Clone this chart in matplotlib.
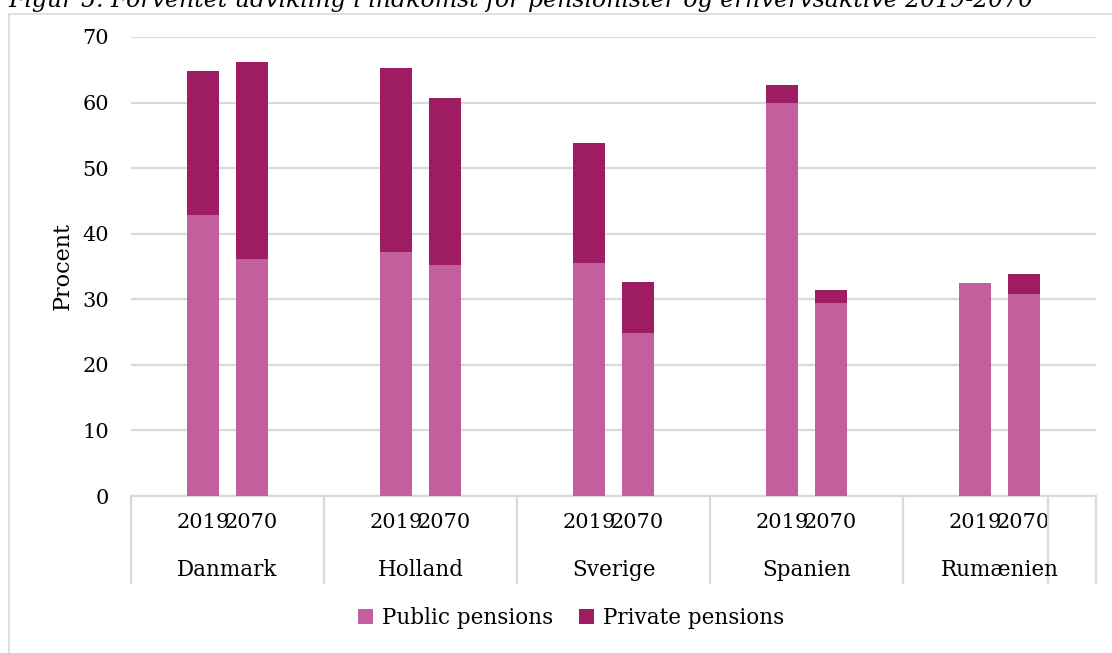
import matplotlib.pyplot as plt
from matplotlib.patches import Rectangle
import matplotlib.transforms as mtransforms

countries = ["Danmark", "Holland", "Sverige", "Spanien", "Rumænien"]
years = ["2019", "2070"]
# public / private share, per country: [2019, 2070]
public = [[42.8, 36.1], [37.2, 35.2], [35.5, 24.8], [59.9, 29.4], [32.5, 30.8]]
private = [[22.0, 30.1], [28.0, 25.5], [18.3, 7.8], [2.8, 2.0], [0.0, 3.0]]

c_pub = "#C1609C"
c_priv = "#9E1C61"
grid_c = "#D9D9D9"
font = "DejaVu Serif"

plt.rcParams['font.family'] = font

fig = plt.figure(figsize=(11.12, 6.53), dpi=100)
ax = fig.add_axes([131/1112, 1 - 496/653, (1096-131)/1112, (496-37)/653])

# outer chart border
fig.patches.append(Rectangle((9/1112, -0.1), 1.2, 1 - 14/653 + 0.1,
                             transform=fig.transFigure, fill=False,
                             edgecolor=grid_c, linewidth=1.2))

xs, pubs, privs, labs = [], [], [], []
for g in range(len(countries)):
    for k in range(2):
        xs.append(4*g + 1 + k)
        pubs.append(public[g][k])
        privs.append(private[g][k])
        labs.append(years[k])

ax.bar(xs, pubs, width=0.66, color=c_pub, label="Public pensions", zorder=3)
ax.bar(xs, privs, width=0.66, bottom=pubs, color=c_priv, label="Private pensions", zorder=3)

ax.set_xlim(-0.5, 19.5)
ax.set_ylim(0, 70)
ax.set_yticks(range(0, 71, 10))
ax.yaxis.grid(True, color=grid_c, linewidth=1.6)
ax.set_axisbelow(True)
for s in ["top", "right", "left"]:
    ax.spines[s].set_visible(False)
ax.spines["bottom"].set_color(grid_c)
ax.spines["bottom"].set_linewidth(1.6)
ax.tick_params(axis="y", length=0, pad=16, labelsize=15)
ax.set_xticks(xs)
ax.set_xticklabels(labs, fontsize=15)
ax.tick_params(axis="x", length=0, pad=12)
ax.set_ylabel("Procent", fontsize=16, labelpad=6)

trans = mtransforms.blended_transform_factory(ax.transData, ax.transAxes)
depth = (583 - 496) / (496 - 37)
for b in [-0.5, 3.5, 7.5, 11.5, 15.5, 18.5, 19.5]:
    ax.plot([b, b], [0, -depth], transform=trans, color=grid_c,
            linewidth=1.6, clip_on=False)
for g, name in enumerate(countries):
    ax.text(4*g + 1.5, -(570 - 496) / (496 - 37), name, transform=trans,
            ha="center", va="center", fontsize=15.5)

fig.legend(loc="center", bbox_to_anchor=(571/1112, 1 - 618/653), ncol=2,
           frameon=False, fontsize=15.5, handlelength=0.7, handleheight=0.7,
           handletextpad=0.4, columnspacing=1.2)

fig.text(8/1112, 1 - 1/653, "Figur 5. Forventet udvikling i indkomst for pensionister og erhvervsaktive 2019-2070",
         ha="left", va="center", fontsize=17, style="italic")

fig.savefig("out.png", dpi=100)
